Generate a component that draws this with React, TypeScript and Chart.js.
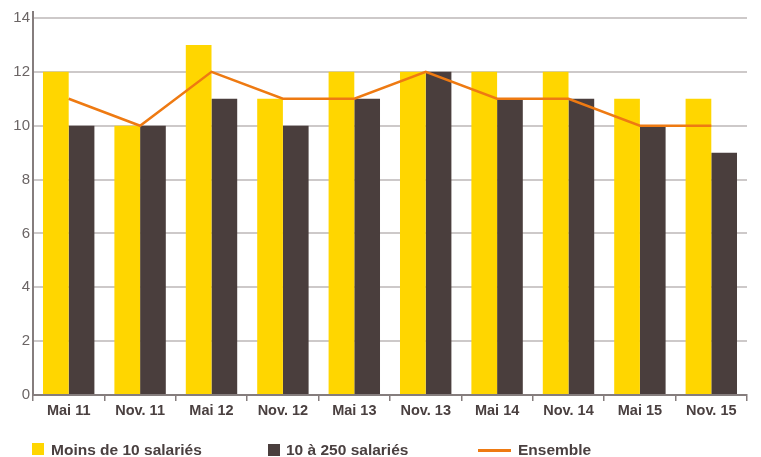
import React, { useEffect, useRef } from "react";
import { Chart, registerables } from "chart.js";
Chart.register(...registerables);

const categories = ["Mai 11", "Nov. 11", "Mai 12", "Nov. 12", "Mai 13", "Nov. 13", "Mai 14", "Nov. 14", "Mai 15", "Nov. 15"];
const moins10 = [12, 10, 13, 11, 12, 12, 12, 12, 11, 11];
const de10a250 = [10, 10, 11, 10, 11, 12, 11, 11, 10, 9];
const ensemble = [11, 10, 12, 11, 11, 12, 11, 11, 10, 10];
const seriesNames = ["Moins de 10 salariés", "10 à 250 salariés", "Ensemble"];

const YELLOW = "#FFD600";
const DARK = "#4A3E3D";
const ORANGE = "#EE7A12";
const AXIS = "#857d7d";
const GRID = "#cdc9c9";
const FONT = "'Liberation Sans', Arial, sans-serif";

const axisExtend = {
  id: "axisExtend",
  afterDraw(chart: any) {
    const { ctx, chartArea } = chart;
    ctx.save();
    ctx.strokeStyle = AXIS;
    ctx.lineWidth = 2;
    ctx.beginPath();
    ctx.moveTo(chartArea.left, chartArea.top - 7);
    ctx.lineTo(chartArea.left, chartArea.top);
    ctx.stroke();
    ctx.restore();
  },
};

export default function App() {
  const ref = useRef<HTMLCanvasElement | null>(null);
  useEffect(() => {
    document.body.style.margin = "0";
    const chart = new Chart(ref.current as HTMLCanvasElement, {
      type: "bar",
      data: {
        labels: categories,
        datasets: [
          {
            type: "line",
            label: seriesNames[2],
            data: ensemble,
            borderColor: ORANGE,
            backgroundColor: ORANGE,
            borderWidth: 2.5,
            pointRadius: 0,
            tension: 0,
            order: 0,
          } as any,
          {
            label: seriesNames[0],
            data: moins10,
            backgroundColor: YELLOW,
            categoryPercentage: 0.72,
            barPercentage: 1,
            order: 1,
          },
          {
            label: seriesNames[1],
            data: de10a250,
            backgroundColor: DARK,
            categoryPercentage: 0.72,
            barPercentage: 1,
            order: 1,
          },
        ],
      },
      options: {
        responsive: false,
        animation: false,
        layout: { padding: { left: 0, right: 14, top: 18, bottom: 32 } },
        plugins: { legend: { display: false }, tooltip: { enabled: false } },
        scales: {
          x: {
            offset: true,
            grid: {
              display: true,
              drawOnChartArea: false,
              drawTicks: true,
              tickLength: 6,
              color: AXIS,
              lineWidth: 1.5,
              offset: true,
            },
            border: { color: AXIS, width: 2 },
            ticks: {
              font: { family: FONT, size: 14.5, weight: "bold" },
              color: "#4a4040",
              padding: 1,
              maxRotation: 0,
              autoSkip: false,
            },
            afterFit: (s: any) => {
              s.height = 30;
            },
          },
          y: {
            min: 0,
            max: 14,
            ticks: {
              stepSize: 2,
              font: { family: FONT, size: 15 },
              color: "#6b6565",
              padding: 3,
            },
            grid: { color: GRID, lineWidth: 2, drawTicks: false },
            border: { color: AXIS, width: 2 },
            afterFit: (s: any) => {
              s.width = 33;
            },
          },
        },
      },
      plugins: [axisExtend],
    });
    return () => chart.destroy();
  }, []);

  const legendText: React.CSSProperties = {
    position: "absolute",
    top: 441,
    fontFamily: FONT,
    fontWeight: "bold",
    fontSize: 15.5,
    lineHeight: "18px",
    color: "#4a4040",
    whiteSpace: "nowrap",
  };

  return (
    <div style={{ position: "relative", width: 761, height: 457, overflow: "hidden", background: "#fff" }}>
      <canvas ref={ref} width={761} height={457} style={{ display: "block" }} />
      <div style={{ position: "absolute", left: 32, top: 443, width: 12, height: 12, background: YELLOW }} />
      <span style={{ ...legendText, left: 51 }}>{seriesNames[0]}</span>
      <div style={{ position: "absolute", left: 268, top: 444, width: 12, height: 12, background: DARK }} />
      <span style={{ ...legendText, left: 286 }}>{seriesNames[1]}</span>
      <div style={{ position: "absolute", left: 478, top: 449, width: 33, height: 2.5, background: ORANGE }} />
      <span style={{ ...legendText, left: 518 }}>{seriesNames[2]}</span>
    </div>
  );
}
